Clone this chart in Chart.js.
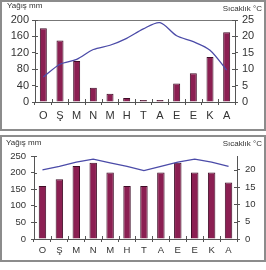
<!DOCTYPE html>
<html><head><meta charset="utf-8">
<script src="https://cdn.jsdelivr.net/npm/chart.js@4/dist/chart.umd.min.js"></script>
<style>
html,body{margin:0;padding:0;background:#fff;width:266px;height:270px;overflow:hidden;font-family:"Liberation Sans",Arial,sans-serif;}
.frame{position:absolute;box-sizing:border-box;border:2px solid #8c8c8c;}
.t{position:absolute;font-size:8px;color:#333;white-space:nowrap;line-height:1;}
canvas{position:absolute;left:0;top:0;}
.w{position:absolute;left:0;}
</style></head><body>
<div class="frame" style="left:0;top:0;width:266px;height:131px"></div>
<div class="frame" style="left:0;top:135px;width:266px;height:127px"></div>
<div class="w" style="top:0;width:266px;height:131px"><canvas id="c1" width="266" height="131"></canvas></div>
<div class="w" style="top:136px;width:266px;height:126px"><canvas id="c2" width="266" height="126"></canvas></div>
<div class="t" style="left:7px;top:2px">Yağış mm</div>
<div class="t" style="right:4px;top:5px">Sıcaklık °C</div>
<div class="t" style="left:6px;top:139px">Yağış mm</div>
<div class="t" style="right:4px;top:140px">Sıcaklık °C</div>
<script>
const months = ['O','Ş','M','N','M','H','T','A','E','E','K','A'];
// Top chart
const rain1 = [180,150,100,35,20,10,5,5,45,70,110,170];
const temp1 = [7.6,11.5,13,16,17.3,19.4,22.3,24.2,20.2,18.4,15.8,9.7];
const rainTicks1 = [0,40,80,120,160,200];
const tempTicks1 = [0,5,10,15,20,25];
// Bottom chart
const rain2 = [160,180,220,230,200,160,160,200,230,200,200,170];
const temp2 = [20,21,22.2,23.1,22,21,19.8,21,22.2,23.1,22.2,21];
const rainTicks2 = [0,50,100,150,200,250];
const tempTicks2 = [0,5,10,15,20];
const tempMax2 = 24;

const AX = '#555';
const innerTicks = {
  id:'innerTicks',
  afterDraw(chart){
    const ctx = chart.ctx; ctx.save(); ctx.strokeStyle = AX; ctx.lineWidth = 1;
    const yl = chart.scales.y, yr = chart.scales.y1, x = chart.scales.x;
    ctx.beginPath();
    yl.ticks.forEach(t=>{const p=Math.round(yl.getPixelForValue(t.value))+0.5; ctx.moveTo(yl.right,p); ctx.lineTo(yl.right+3,p);});
    yr.ticks.forEach(t=>{const p=Math.round(yr.getPixelForValue(t.value))+0.5; ctx.moveTo(yr.left,p); ctx.lineTo(yr.left-3,p);});
    const n = x.ticks.length;
    for(let i=0;i<=n;i++){
      const p = i<n ? x.getPixelForTick(i) - (x.width/n)/2 : x.right;
      const q = Math.round(p)+0.5;
      ctx.moveTo(q,x.top); ctx.lineTo(q,x.top-3);
    }
    ctx.stroke(); ctx.restore();
  }
};

function make(id, rain, temp, rTicks, tTicks, tMax, opts){
  const rMax = rTicks[rTicks.length-1];
  const rStep = rTicks[1]-rTicks[0];
  const tStep = tTicks[1]-tTicks[0];
  new Chart(document.getElementById(id), {
    data:{
      labels: months,
      datasets:[
        {type:'line', data:temp, yAxisID:'y1', borderColor:'#4b4ba8', borderWidth:1.3, pointRadius:0, tension:opts.tension, order:0, clip:false},
        {type:'bar', data:rain, yAxisID:'y', backgroundColor:'#8b1f52', borderColor:'#3f0c26', borderWidth:1, barPercentage:opts.barPct, categoryPercentage:1, order:1}
      ]
    },
    options:{
      responsive:false, animation:false, events:[],
      layout:{padding:{top:opts.top,left:0,right:0,bottom:0}},
      plugins:{legend:{display:false}, tooltip:{enabled:false}},
      scales:{
        x:{type:'category', offset:true,
           grid:{offset:true, drawOnChartArea:false, drawTicks:true, tickLength:3, tickColor:AX},
           border:{color:AX},
           ticks:{color:'#333', font:{family:'"Liberation Sans", Arial', size:opts.xFont}, padding:opts.xPad, maxRotation:0, autoSkip:false},
           afterFit:s=>{s.height=opts.xH;}},
        y:{position:'left', min:0, max:rMax,
           ticks:{stepSize:rStep, color:'#333', font:{family:'"Liberation Sans", Arial', size:opts.yFont}, padding:opts.lPad},
           grid:{drawOnChartArea:opts.topLine, tickLength:3, tickColor:AX,
                 color:c=> (c.tick && c.tick.value===rMax) ? '#777' : 'rgba(0,0,0,0)'},
           border:{color:AX},
           afterFit:s=>{s.width=opts.lW;}},
        y1:{position:'right', min:0, max:tMax,
           ticks:{stepSize:tStep, color:'#333', font:{family:'"Liberation Sans", Arial', size:opts.yFont}, padding:opts.rPad},
           afterBuildTicks:s=>{s.ticks = s.ticks.filter(t=>tTicks.includes(t.value));},
           grid:{drawOnChartArea:false, tickLength:3, tickColor:AX},
           border:{color:AX},
           afterFit:s=>{s.width=opts.rW;}}
      }
    },
    plugins:[innerTicks]
  });
}

make('c1', rain1, temp1, rainTicks1, tempTicks1, 25,
  {tension:0.3, barPct:0.42, top:20, xH:29, lW:35, rW:31, xFont:11, yFont:11, xPad:4, lPad:3, rPad:4, topLine:true});
make('c2', rain2, temp2, rainTicks2, tempTicks2, tempMax2,
  {tension:0, barPct:0.44, top:20, xH:23, lW:34, rW:29, xFont:9.5, yFont:9.5, xPad:3, lPad:5, rPad:5, topLine:false});
</script>
</body></html>
